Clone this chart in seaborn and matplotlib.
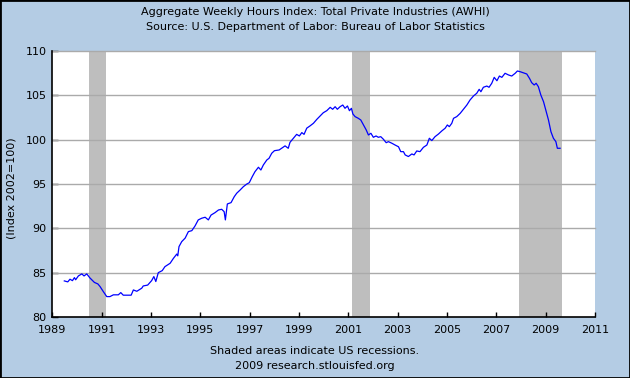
import matplotlib
matplotlib.use("Agg")
import matplotlib.pyplot as plt
from matplotlib.patches import Rectangle
import seaborn as sns
import pandas as pd

title_lines = ["Aggregate Weekly Hours Index: Total Private Industries (AWHI)",
               "Source: U.S. Department of Labor: Bureau of Labor Statistics"]
y_label = "(Index 2002=100)"
footer_lines = ["Shaded areas indicate US recessions.",
                "2009 research.stlouisfed.org"]

year = [1989.49, 1989.63, 1989.72, 1989.82, 1989.90, 1989.95, 1990.06, 1990.20, 1990.29, 1990.40,
        1990.53, 1990.71, 1990.85, 1990.94, 1991.07, 1991.21, 1991.34, 1991.48, 1991.68, 1991.78,
        1991.88, 1992.20, 1992.29, 1992.43, 1992.63, 1992.69, 1992.87, 1993.03, 1993.12, 1993.20,
        1993.30, 1993.46, 1993.57, 1993.78, 1993.91, 1994.05, 1994.09, 1994.14, 1994.25, 1994.39,
        1994.52, 1994.66, 1994.79, 1994.92, 1995.06, 1995.20, 1995.33, 1995.44, 1995.60, 1995.74,
        1995.87, 1995.97, 1996.02, 1996.10, 1996.25, 1996.38, 1996.48, 1996.62, 1996.75, 1996.89,
        1996.99, 1997.11, 1997.22, 1997.36, 1997.46, 1997.56, 1997.70, 1997.79, 1997.90, 1998.01,
        1998.20, 1998.44, 1998.57, 1998.64, 1998.78, 1998.91, 1999.02, 1999.12, 1999.21, 1999.32,
        1999.45, 1999.59, 1999.73, 1999.86, 1999.99, 2000.13, 2000.27, 2000.37, 2000.47, 2000.56,
        2000.67, 2000.78, 2000.87, 2000.97, 2001.05, 2001.13, 2001.19, 2001.28, 2001.41, 2001.51,
        2001.62, 2001.73, 2001.82, 2001.92, 2002.02, 2002.13, 2002.22, 2002.32, 2002.43, 2002.54,
        2002.63, 2002.77, 2002.90, 2003.04, 2003.13, 2003.24, 2003.31, 2003.44, 2003.58, 2003.67,
        2003.78, 2003.91, 2004.05, 2004.19, 2004.29, 2004.39, 2004.52, 2004.66, 2004.80, 2004.93,
        2005.02, 2005.10, 2005.20, 2005.27, 2005.40, 2005.54, 2005.67, 2005.81, 2005.94, 2006.08,
        2006.21, 2006.31, 2006.38, 2006.48, 2006.62, 2006.71, 2006.82, 2006.92, 2007.03, 2007.13,
        2007.23, 2007.36, 2007.50, 2007.63, 2007.77, 2007.86, 2007.97, 2008.10, 2008.24, 2008.35,
        2008.44, 2008.54, 2008.62, 2008.71, 2008.81, 2008.92, 2009.01, 2009.12, 2009.22, 2009.32,
        2009.42, 2009.48, 2009.59]
awhi = [84.07, 83.96, 84.26, 84.10, 84.44, 84.20, 84.63, 84.86, 84.63, 84.86,
        84.40, 83.90, 83.73, 83.43, 82.87, 82.30, 82.30, 82.50, 82.50, 82.75,
        82.46, 82.46, 83.05, 82.90, 83.25, 83.50, 83.60, 84.10, 84.56, 84.00,
        85.00, 85.23, 85.68, 86.06, 86.60, 87.10, 86.90, 87.94, 88.50, 88.90,
        89.63, 89.74, 90.27, 90.95, 91.14, 91.25, 90.95, 91.50, 91.77, 92.07,
        92.15, 91.88, 90.95, 92.75, 92.90, 93.57, 93.96, 94.33, 94.70, 95.00,
        95.15, 95.83, 96.39, 96.89, 96.58, 97.15, 97.71, 97.90, 98.47, 98.76,
        98.84, 99.30, 99.03, 99.70, 100.16, 100.60, 100.42, 100.80, 100.60, 101.30,
        101.55, 101.85, 102.30, 102.67, 103.04, 103.27, 103.65, 103.43, 103.72, 103.43,
        103.72, 103.91, 103.54, 103.80, 103.27, 103.54, 102.90, 102.60, 102.41, 102.22,
        101.66, 101.10, 100.53, 100.72, 100.27, 100.42, 100.27, 100.34, 100.04, 99.66,
        99.78, 99.60, 99.40, 99.20, 98.65, 98.65, 98.28, 98.10, 98.39, 98.28,
        98.73, 98.65, 99.14, 99.40, 100.16, 99.90, 100.34, 100.64, 101.00, 101.29,
        101.66, 101.47, 101.85, 102.41, 102.60, 102.97, 103.43, 103.91, 104.48, 104.93,
        105.23, 105.68, 105.41, 105.91, 106.05, 105.91, 106.36, 107.03, 106.65, 107.18,
        107.03, 107.49, 107.30, 107.18, 107.49, 107.75, 107.67, 107.55, 107.41, 106.92,
        106.43, 106.17, 106.36, 105.98, 105.04, 104.28, 103.35, 102.22, 100.90, 100.16,
        99.78, 99.03, 99.03]

recession_start = [1990.50, 2001.17, 2007.92]
recession_end = [1991.17, 2001.88, 2009.67]

x_ticks = list(range(1989, 2012, 2))
y_ticks = [80, 85, 90, 95, 100, 105, 110]

df = pd.DataFrame({"year": year, "awhi": awhi})

bg = "#B4CCE4"
fig = plt.figure(figsize=(6.3, 3.78), dpi=100, facecolor=bg)
ax = fig.add_axes([0.0829, 0.1614, 0.8613, 0.7036])
ax.set_facecolor("white")

for s, e in zip(recession_start, recession_end):
    ax.axvspan(s, e, color="#BEBEBE", lw=0, zorder=1)

for v in y_ticks[1:]:
    ax.axhline(v, color="#AAAAAA", lw=1.0, zorder=2, clip_on=False)

sns.lineplot(data=df, x="year", y="awhi", ax=ax, color="#0000FF", lw=0.9, zorder=3)

ax.set_xlim(1989, 2011)
ax.set_ylim(80, 110)
ax.set_xticks(x_ticks)
ax.set_yticks(y_ticks)
ax.set_xticklabels([str(t) for t in x_ticks])
ax.set_yticklabels([str(t) for t in y_ticks])
ax.tick_params(direction="in", width=1, labelsize=8, colors="black",
               top=False, right=False)
ax.tick_params(axis="x", length=3.3, pad=6)
ax.tick_params(axis="y", length=4.3, pad=4)
ax.set_xlabel("")
ax.set_ylabel("")
for sp in ["top", "right"]:
    ax.spines[sp].set_visible(False)
for sp in ["left", "bottom"]:
    ax.spines[sp].set_color("black")
    ax.spines[sp].set_linewidth(1.2)
    ax.spines[sp].set_zorder(4)

fig.text(0.5, 1 - 12 / 378, title_lines[0], ha="center", va="center", fontsize=8)
fig.text(0.5, 1 - 27 / 378, title_lines[1], ha="center", va="center", fontsize=8)
fig.text(12 / 630, 1 - 188 / 378, y_label, ha="center", va="center", rotation=90, fontsize=8)
fig.text(0.5, 1 - 351 / 378, footer_lines[0], ha="center", va="center", fontsize=8)
fig.text(0.5, 1 - 366 / 378, footer_lines[1], ha="center", va="center", fontsize=8)

fig.patches.append(Rectangle((0, 0), 1, 1, transform=fig.transFigure, fill=False,
                             edgecolor="black", lw=2, zorder=10))

fig.savefig("out.png", dpi=100, facecolor=bg)
